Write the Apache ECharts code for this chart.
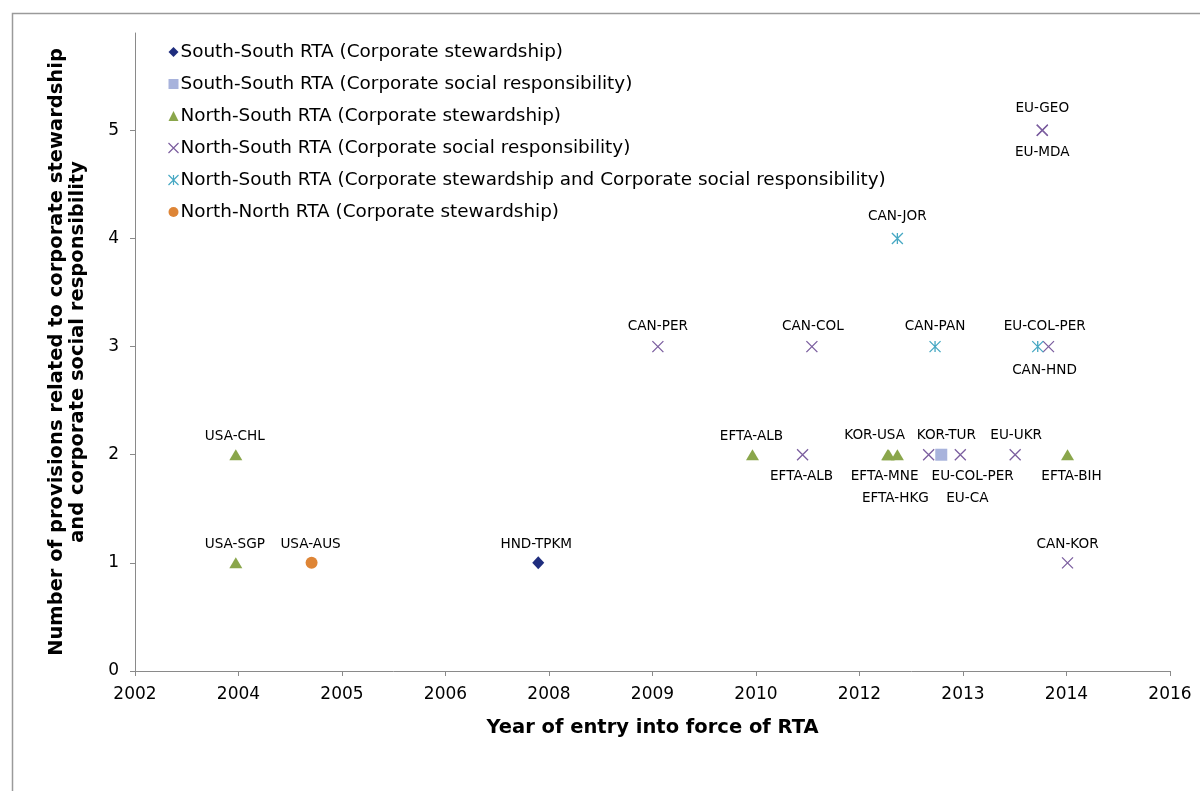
<!DOCTYPE html>
<html>
<head>
<meta charset="utf-8">
<script src="https://cdn.jsdelivr.net/npm/echarts@6/dist/echarts.min.js"></script>
<style>
  html, body { margin: 0; padding: 0; background: #ffffff; }
  #chart { width: 1200px; height: 791px; }
</style>
</head>
<body>
<div id="chart"></div>
<script>
// ---- Data: [entry-into-force date, number of provisions, RTA label] ----
const southSouthCS  = [['2008-01-01', 1, 'HND-TPKM']];
const southSouthCSR = [['2013-05-01', 2, 'KOR-TUR']];
const northSouthCS  = [
  ['2004-01-01', 2, 'USA-CHL'],
  ['2004-01-01', 1, 'USA-SGP'],
  ['2010-11-01', 2, 'EFTA-ALB'],
  ['2012-08-15', 2, 'KOR-USA'],
  ['2012-08-20', 2, 'EFTA-MNE'],
  ['2012-10-01', 2, 'EFTA-HKG'],
  ['2015-01-01', 2, 'EFTA-BIH']
];
const northSouthCSR = [
  ['2009-08-01', 3, 'CAN-PER'],
  ['2011-08-15', 3, 'CAN-COL'],
  ['2011-07-01', 2, 'EFTA-ALB'],
  ['2013-03-01', 2, 'EU-COL-PER'],
  ['2013-08-01', 2, 'EU-CA'],
  ['2014-04-23', 2, 'EU-UKR'],
  ['2014-09-01', 5, 'EU-GEO'],
  ['2014-09-01', 5, 'EU-MDA'],
  ['2014-10-01', 3, 'CAN-HND'],
  ['2015-01-01', 1, 'CAN-KOR']
];
const northSouthBoth = [
  ['2012-10-01', 4, 'CAN-JOR'],
  ['2013-04-01', 3, 'CAN-PAN'],
  ['2014-08-10', 3, 'EU-COL-PER']
];
const northNorthCS = [['2005-01-01', 1, 'USA-AUS']];

const seriesNames = [
  'South-South RTA (Corporate stewardship)',
  'South-South RTA (Corporate social responsibility)',
  'North-South RTA (Corporate stewardship)',
  'North-South RTA (Corporate social responsibility)',
  'North-South RTA (Corporate stewardship and Corporate social responsibility)',
  'North-North RTA (Corporate stewardship)'
];
const yTickValues = [0, 1, 2, 3, 4, 5];
// x axis in spreadsheet date serials (days since 1899-12-30)
const xMinSerial = 37500, xMaxSerial = 42500, xStepDays = 500;

// ---- Label placement (style, kept apart from data) ----
const labelOffsets = [
  { 'HND-TPKM': [-2, -18] },
  { 'KOR-TUR': [5, -19] },
  { 'USA-CHL': [-1, -18], 'USA-SGP': [-1, -18], 'EFTA-ALB': [-1, -18], 'KOR-USA': [-13, -19],
    'EFTA-MNE': [-4, 22], 'EFTA-HKG': [-2, 44], 'EFTA-BIH': [4, 22] },
  { 'CAN-PER': [0, -20], 'CAN-COL': [1, -20], 'EFTA-ALB': [-1, 22], 'EU-COL-PER': [44, 22],
    'EU-CA': [7, 44], 'EU-UKR': [1, -19], 'EU-GEO': [0, -22], 'EU-MDA': [0, 22],
    'CAN-HND': [-4, 24], 'CAN-KOR': [0, -18] },
  { 'CAN-JOR': [0, -22], 'CAN-PAN': [0, -20], 'EU-COL-PER': [7, -20] },
  { 'USA-AUS': [-1, -18] }
];

function toSerial(s) {
  const p = s.split('-').map(Number);
  return Math.round((Date.UTC(p[0], p[1] - 1, p[2]) - Date.UTC(1899, 11, 30)) / 86400000);
}
function serialYear(v) {
  return new Date(Date.UTC(1899, 11, 30) + v * 86400000).getUTCFullYear();
}

const FONT = 'DejaVu Sans, Verdana, sans-serif';
const xPath = 'path://M0,0L10,10M10,0L0,10';
const starPath = 'path://M0,0L10,10M10,0L0,10M5,0L5,10';

const styles = [
  { symbol: 'diamond', size: [12, 13], itemStyle: { color: '#1F2D7E', opacity: 1 } },
  { symbol: 'rect', size: [12, 12], itemStyle: { color: '#A8B3DC', opacity: 1 } },
  { symbol: 'triangle', size: [13, 11], itemStyle: { color: '#8AA64B', opacity: 1 } },
  { symbol: xPath, size: [11, 11], itemStyle: { color: 'none', borderColor: '#7B5E9F', borderWidth: 1.3, opacity: 1 } },
  { symbol: starPath, size: [11, 11], itemStyle: { color: 'none', borderColor: '#47A8C3', borderWidth: 1.3, opacity: 1 } },
  { symbol: 'circle', size: [12, 12], itemStyle: { color: '#DE8536', opacity: 1 } }
];

const allData = [southSouthCS, southSouthCSR, northSouthCS, northSouthCSR, northSouthBoth, northNorthCS];

const series = allData.map(function (rows, i) {
  return {
    name: seriesNames[i],
    type: 'scatter',
    symbol: styles[i].symbol,
    symbolSize: styles[i].size,
    itemStyle: styles[i].itemStyle,
    label: {
      show: true,
      position: 'inside',
      formatter: '{b}',
      color: '#000',
      fontFamily: FONT,
      fontSize: 13.6
    },
    emphasis: { disabled: true },
    data: rows.map(function (r) {
      const off = (labelOffsets[i][r[2]]) || [0, -18];
      return { name: r[2], value: [toSerial(r[0]), r[1]], label: { offset: off } };
    })
  };
});

const chart = echarts.init(document.getElementById('chart'), null, { renderer: 'canvas' });
chart.setOption({
  backgroundColor: '#ffffff',
  animation: false,
  graphic: [{
    type: 'rect',
    shape: { x: 12.5, y: 13.5, width: 1300, height: 900 },
    style: { fill: 'none', stroke: '#9a9a9a', lineWidth: 1.5 },
    silent: true, z: -10
  }],
  legend: {
    orient: 'vertical',
    left: 166,
    top: 42,
    padding: 0,
    itemWidth: 10,
    itemHeight: 10,
    itemGap: 12,
    itemStyle: { borderWidth: 1.2 },
    textStyle: { fontFamily: FONT, fontSize: 18.4, color: '#000', lineHeight: 20, padding: [0, 0, 0, -3] },
    data: seriesNames,
    selectedMode: false
  },
  grid: { left: 135, right: 30, top: 33, bottom: 120 },
  xAxis: {
    type: 'value',
    min: xMinSerial,
    max: xMaxSerial,
    interval: xStepDays,
    splitLine: { show: false },
    axisLine: { show: true, lineStyle: { color: '#8a8a8a', width: 1 } },
    axisTick: { show: true, length: 5, lineStyle: { color: '#8a8a8a' } },
    axisLabel: {
      formatter: function (v) { return String(serialYear(v)); },
      fontFamily: FONT, fontSize: 17, color: '#000', margin: 15
    },
    name: 'Year of entry into force of RTA',
    nameLocation: 'middle',
    nameGap: 47,
    nameTextStyle: { fontFamily: FONT, fontSize: 19.5, fontWeight: 'bold', color: '#000' }
  },
  yAxis: {
    type: 'value',
    min: 0,
    max: 5.9,
    interval: 1,
    splitLine: { show: false },
    axisLine: { show: true, lineStyle: { color: '#8a8a8a', width: 1 } },
    axisTick: { show: true, length: 5, lineStyle: { color: '#8a8a8a' }, customValues: yTickValues },
    axisLabel: {
      fontFamily: FONT, fontSize: 17, color: '#000', margin: 16,
      customValues: yTickValues
    },
    name: 'Number of provisions related to corporate stewardship\nand corporate social responsibility',
    nameLocation: 'middle',
    nameRotate: 90,
    nameGap: 47,
    nameTextStyle: { fontFamily: FONT, fontSize: 19.5, fontWeight: 'bold', color: '#000', lineHeight: 21, align: 'center' }
  },
  series: series
});
</script>
</body>
</html>
